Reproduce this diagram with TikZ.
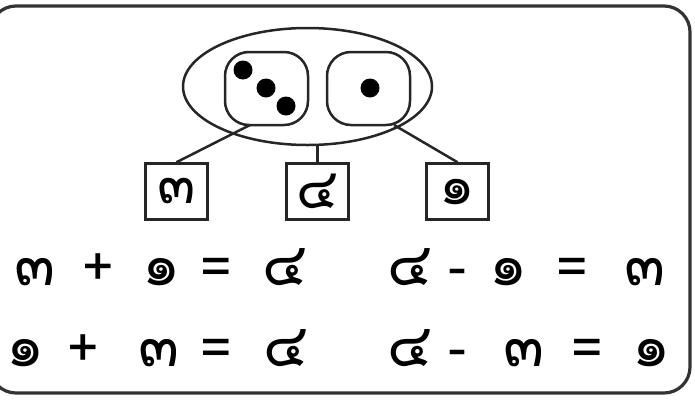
\documentclass[tikz,border=0pt]{standalone}
\usepackage{fontspec}
\usetikzlibrary{shapes.geometric}
\newfontfamily\thaifont[Script=Thai]{Loma}
\begin{document}
\begin{tikzpicture}[x=1pt,y=-1pt,
  ln/.style={line width=2.5pt,black!85},
  dig/.style={font=\thaifont\fontsize{60}{62}\selectfont,inner sep=0pt,anchor=base},
  sym/.style={font=\thaifont\fontsize{54}{60}\selectfont,inner sep=0pt,anchor=base},
  numbox/.style={draw,line width=2.5pt,black!85,text=black,minimum width=62pt,minimum height=56pt,inner sep=0pt,font=\thaifont\fontsize{56}{60}\selectfont},
  die/.style={draw,line width=2.5pt,black!85,rounded corners=24pt,minimum width=83pt,minimum height=73pt},
  pip/.style={circle,fill=black,inner sep=0pt,minimum size=19pt}]
\useasboundingbox (0,0) rectangle (695,402);
\draw[line width=3.2pt,black!80,rounded corners=26pt] (-10,6) rectangle (690,393);
\node[draw,ellipse,line width=2.5pt,black!85,minimum width=249pt,minimum height=117pt] (grp) at (307.5,86.5) {};
\node[die] (d3) at (266.5,88.5) {};
\node[die] (d1) at (368.5,88.5) {};
\node[pip] (p1) at (243,70) {};
\node[pip] (p2) at (266,88) {};
\node[pip] (p3) at (286,106) {};
\node[pip] (p4) at (370,88) {};
\node[numbox] (b3) at (176.5,191.5) {๓};
\node[numbox] (b4) at (317.5,191.5) {๔};
\node[numbox] (b1) at (457.5,191.5) {๑};
\coordinate (l3) at (250,125);
\coordinate (l1) at (394,125);
\coordinate (l4) at (317.5,145);
\draw[ln] (l3) -- (b3.north);
\draw[ln] (l4) -- (b4.north);
\draw[ln] (l1) -- (b1.north);
% row 1
\node[dig] (a1) at (35,285) {๓};
\node[sym] (a2) at (98,285) {+};
\node[dig] (a3) at (162,285) {๑};
\node[sym] (a4) at (216,285) {=};
\node[dig] (a5) at (285,285) {๔};
\node[dig] (c1) at (410,285) {๔};
\node[sym] (c2) at (457,285) {-};
\node[dig] (c3) at (509,285) {๑};
\node[sym] (c4) at (572,285) {=};
\node[dig] (c5) at (645,285) {๓};
% row 2
\node[dig] (e1) at (26,366) {๑};
\node[sym] (e2) at (83,366) {+};
\node[dig] (e3) at (159,366) {๓};
\node[sym] (e4) at (216,366) {=};
\node[dig] (e5) at (286,366) {๔};
\node[dig] (f1) at (410,366) {๔};
\node[sym] (f2) at (457,366) {-};
\node[dig] (f3) at (524,366) {๓};
\node[sym] (f4) at (587,366) {=};
\node[dig] (f5) at (652,366) {๑};
\end{tikzpicture}
\end{document}
